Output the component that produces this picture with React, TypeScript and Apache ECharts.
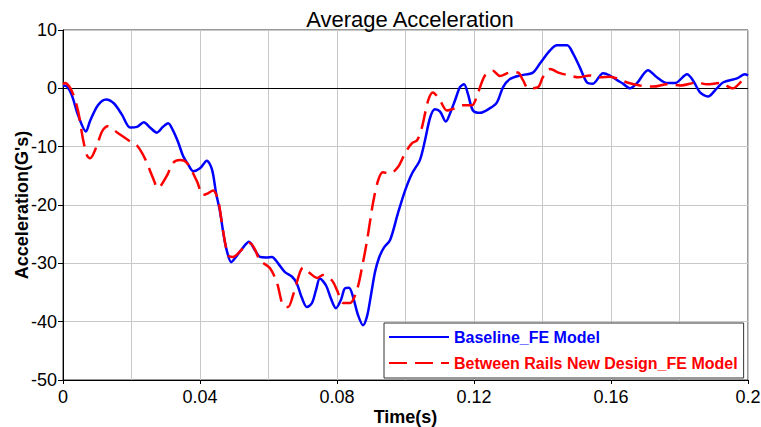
import React, { useEffect, useRef } from "react";
import * as echarts from "echarts";

const title = "Average Acceleration";
const xName = "Time(s)";
const yName = "Acceleration(G's)";
const baselineName = "Baseline_FE Model";
const newDesignName = "Between Rails New Design_FE Model";

const baselineTime = [
  0, 0.0012, 0.0026, 0.0044, 0.0067, 0.0079, 0.0102, 0.0126, 0.0149, 0.0172, 0.0196, 0.0216,
  0.0236, 0.0254, 0.0274, 0.0292, 0.0307, 0.0321, 0.0336, 0.035, 0.0365, 0.038, 0.04, 0.042,
  0.0435, 0.0447, 0.0458, 0.047, 0.0479, 0.0491, 0.0505, 0.0523, 0.0543, 0.0561, 0.0575, 0.0593,
  0.061, 0.0628, 0.0648, 0.0669, 0.0683, 0.0698, 0.0712, 0.0727, 0.0739, 0.075, 0.0768, 0.0782,
  0.0797, 0.0812, 0.0823, 0.0835, 0.0847, 0.0861, 0.0876, 0.0888, 0.0899, 0.0911, 0.0923, 0.0937,
  0.0955, 0.0978, 0.0999, 0.1019, 0.1042, 0.1057, 0.1072, 0.1086, 0.1101, 0.1118, 0.113, 0.1145,
  0.1159, 0.1171, 0.1182, 0.1197, 0.1218, 0.1247, 0.1267, 0.1285, 0.1305, 0.1334, 0.1372, 0.1393,
  0.1422, 0.1442, 0.1472, 0.1489, 0.1509, 0.153, 0.1547, 0.1577, 0.1597, 0.1618, 0.1635, 0.1655,
  0.1676, 0.1708, 0.1734, 0.1764, 0.1787, 0.1822, 0.1839, 0.186, 0.1883, 0.1909, 0.1927, 0.1968,
  0.1991, 0.2,
];
const baselineAccel = [
  0.5, 0.3, -1.2, -4.6, -7.4, -5.6, -2.9, -1.9, -2.6, -4.5, -6.7, -6.6,
  -5.8, -6.7, -7.6, -6.6, -6.0, -7.2, -9.2, -11.5, -13.0, -14.2, -13.7, -12.4,
  -13.9, -18.0, -21.0, -25.5, -28.0, -29.8, -28.9, -27.5, -26.3, -27.8, -28.9, -29.0,
  -28.9, -30.0, -31.5, -32.3, -33.5, -36.0, -37.5, -36.8, -34.5, -32.6, -33.8, -36.0,
  -37.7, -36.2, -34.3, -34.2, -35.8, -38.8, -40.6, -39.0, -35.5, -31.5, -29.0, -27.3,
  -26.0, -21.4, -17.5, -14.6, -12.3, -8.9, -5.0, -3.6, -4.0, -5.7, -4.3, -2.0,
  0.2, 0.7, -0.9, -3.8, -4.2, -3.4, -2.4, 0.2, 1.6, 2.2, 2.7, 4.3,
  6.5, 7.4, 7.4, 6.0, 3.6, 1.0, 0.8, 2.6, 2.2, 1.4, 0.8, 0.0,
  0.9, 3.1, 1.9, 0.9, 0.9, 2.4, 1.4, -0.7, -1.4, 0.0, 1.0, 1.7,
  2.4, 2.2,
];

const newDesignTime = [
  0, 0.0006, 0.0026, 0.0044, 0.0058, 0.007, 0.0079, 0.0099, 0.0114, 0.0131, 0.0161, 0.0196,
  0.0216, 0.0239, 0.0263, 0.0277, 0.0304, 0.0321, 0.0342, 0.0362, 0.0391, 0.0409, 0.0423, 0.0438,
  0.0453, 0.0467, 0.0482, 0.0496, 0.0526, 0.0546, 0.0561, 0.0575, 0.0604, 0.0625, 0.0642, 0.0657,
  0.0672, 0.0692, 0.0701, 0.0721, 0.0742, 0.0759, 0.0785, 0.08, 0.0818, 0.0838, 0.0858, 0.0873,
  0.0888, 0.0905, 0.092, 0.0934, 0.0955, 0.0978, 0.0999, 0.1019, 0.1034, 0.1048, 0.1066, 0.108,
  0.1101, 0.1121, 0.1145, 0.1168, 0.1194, 0.1212, 0.1232, 0.1255, 0.1276, 0.1305, 0.1328, 0.1343,
  0.1358, 0.1387, 0.1401, 0.1422, 0.1451, 0.148, 0.1504, 0.1539, 0.1568, 0.1597, 0.1626, 0.1647,
  0.1685, 0.1723, 0.1764, 0.1803, 0.1851, 0.188, 0.1918, 0.1956, 0.1985, 0.2,
];
const newDesignAccel = [
  0.7, 0.9, -0.5, -3.9, -8.6, -11.5, -12.0, -9.8, -7.4, -6.5, -7.7, -9.1,
  -9.8, -12.0, -15.4, -17.1, -14.9, -12.8, -12.3, -12.8, -15.9, -18.3, -18.0, -17.5,
  -19.2, -24.3, -28.6, -28.9, -27.4, -26.5, -27.7, -29.5, -30.8, -33.4, -37.2, -37.5,
  -35.4, -31.5, -30.7, -31.7, -32.5, -32.0, -32.9, -34.6, -36.8, -36.8, -34.6, -30.7,
  -26.0, -19.7, -15.8, -14.4, -14.6, -13.5, -11.1, -9.4, -8.9, -6.7, -2.1, -0.7,
  -2.1, -3.8, -3.4, -2.9, -2.9, -0.7, 2.2, 3.0, 2.1, 2.7, 2.7, 1.4,
  0.0, 0.2, 1.9, 3.3, 2.6, 2.2, 1.9, 2.2, 1.9, 2.0, 1.5, 1.0,
  0.5, 0.3, 0.7, 0.5, 1.0, 0.7, 0.9, 0.0, 1.4, 1.7,
];

const FONT = "'Liberation Sans', Arial, sans-serif";

export default function App() {
  const ref = useRef<HTMLDivElement>(null);
  useEffect(() => {
    document.body.style.margin = "0";
    if (!ref.current) return;
    const chart = echarts.init(ref.current, undefined, { renderer: "svg" });
    const pairs = (t: number[], v: number[]) => t.map((x, i) => [x, v[i]]);
    chart.setOption({
      animation: false,
      backgroundColor: "#ffffff",
      textStyle: { fontFamily: FONT },
      title: {
        text: title,
        left: 405,
        textAlign: "center",
        top: 3,
        textStyle: { fontFamily: FONT, fontSize: 22, fontWeight: "normal", color: "#000" },
      },
      grid: {
        left: 63,
        right: 13,
        top: 30,
        bottom: 47,
        containLabel: false,
        outerBoundsMode: "none",
        show: true,
        borderColor: "#333",
        borderWidth: 1,
        backgroundColor: "#fff",
      },
      legend: {
        orient: "vertical",
        left: 384,
        top: 323,
        padding: [6, 6, 7, 4],
        itemWidth: 60,
        itemHeight: 14,
        itemGap: 10,
        itemTextGap: 5,
        backgroundColor: "#fff",
        borderColor: "#333",
        borderWidth: 1,
        itemStyle: { opacity: 0 },
        data: [
          { name: baselineName, textStyle: { color: "#0000ff" } },
          { name: newDesignName, textStyle: { color: "#ff0000" } },
        ],
        textStyle: { fontFamily: FONT, fontSize: 16, fontWeight: "bold", lineHeight: 16 },
      },
      xAxis: {
        type: "value",
        min: 0,
        max: 0.2,
        interval: 0.04,
        name: xName,
        nameLocation: "middle",
        nameGap: 28,
        nameMoveOverlap: false,
        nameTextStyle: { fontFamily: FONT, fontSize: 18, fontWeight: "bold", color: "#000" },
        axisLine: { show: true, onZero: false, lineStyle: { color: "#000", width: 1 } },
        axisTick: { show: true, inside: false, length: 4, lineStyle: { color: "#000" } },
        minorTick: { show: false, splitNumber: 2 },
        splitLine: { show: true, lineStyle: { color: "#c8c8c8", width: 1 } },
        minorSplitLine: { show: true, lineStyle: { color: "#c8c8c8", width: 1 } },
        axisLabel: {
          fontFamily: FONT,
          fontSize: 18,
          color: "#000",
          margin: 8,
          formatter: (v: number) => (v === 0 ? "0" : String(Math.round(v * 100) / 100)),
        },
      },
      yAxis: {
        type: "value",
        min: -50,
        max: 10,
        interval: 10,
        name: yName,
        nameLocation: "middle",
        nameGap: 32,
        nameMoveOverlap: false,
        nameTextStyle: { fontFamily: FONT, fontSize: 18, fontWeight: "bold", color: "#000" },
        axisLine: { show: true, onZero: false, lineStyle: { color: "#000", width: 1 } },
        axisTick: { show: true, inside: false, length: 5, lineStyle: { color: "#000" } },
        splitLine: { show: true, lineStyle: { color: "#c8c8c8", width: 1 } },
        axisLabel: { fontFamily: FONT, fontSize: 18, color: "#000", margin: 6 },
      },
      series: [
        {
          name: baselineName,
          type: "line",
          data: pairs(baselineTime, baselineAccel),
          smooth: 0.3,
          symbol: "none",
          lineStyle: { color: "#0000ff", width: 2.5 },
          itemStyle: { color: "#0000ff" },
          z: 3,
          markLine: {
            silent: true,
            symbol: "none",
            label: { show: false },
            lineStyle: { color: "#000", width: 1, type: "solid" },
            data: [{ yAxis: 0 }],
            z: 1,
          },
        },
        {
          name: newDesignName,
          type: "line",
          data: pairs(newDesignTime, newDesignAccel),
          smooth: 0.3,
          symbol: "none",
          lineStyle: { color: "#ff0000", width: 2.5, type: [18, 8] },
          itemStyle: { color: "#ff0000" },
          z: 4,
        },
      ],
    });
    return () => chart.dispose();
  }, []);
  return <div ref={ref} style={{ width: 761, height: 427 }} />;
}
